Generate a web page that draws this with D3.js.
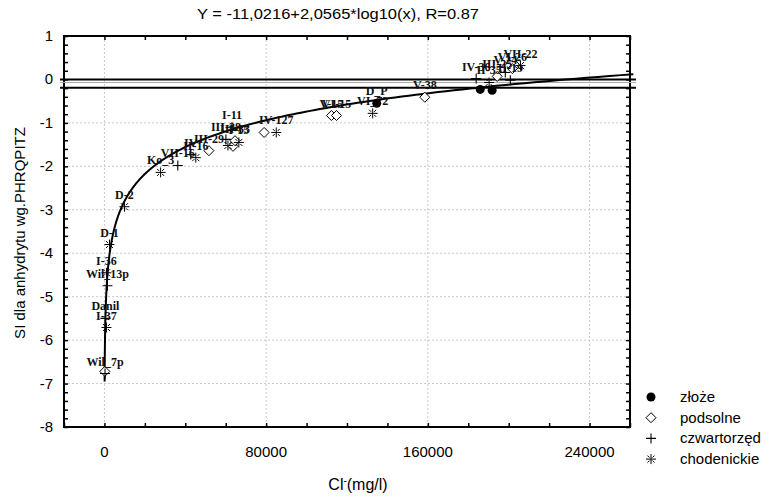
<!DOCTYPE html>
<html>
<head>
<meta charset="utf-8">
<script src="https://cdn.jsdelivr.net/npm/d3@7"></script>
<style>
	body { margin: 0; background: #fff; }
	svg { display: block; }
	.lbl { font-family: "Liberation Serif", "DejaVu Serif", serif; font-size: 12px; font-weight: bold; fill: #111; }
	.ax { font-family: "Liberation Sans", Arial, sans-serif; font-size: 15px; fill: #000; }
</style>
</head>
<body>
<div id="chart"></div>
<script>
(function () {
	// dane
	const seriesNames = ["złoże", "podsolne", "czwartorzęd", "chodenickie"]

	const zlozeCl = [134700, 185900, 191800]
	const zlozeSI = [-0.55, -0.23, -0.25]
	const zlozeLabels = ["D_P", "", ""]

	const podsolneCl = [158500, 112300, 114800, 79000, 51700, 63600, 64600, 200, 194300, 201800]
	const podsolneSI = [-0.41, -0.83, -0.83, -1.22, -1.64, -1.54, -1.41, -6.72, 0.07, 0.25]
	const podsolneLabels = ["V-38", "V-15", "VI-15", "", "III-29", "", "III-33", "", "III-25", "VI-26"]

	const czwCl = [300, 1500, 500, 36300, 42700, 63100, 60100, 183900, 198300, 200800]
	const czwSI = [-6.77, -4.75, -5.50, -1.98, -1.73, -1.10, -1.38, 0.02, 0.16, -0.02]
	const czwLabels = ["Wil_7p", "Wil_13p", "Danil", "VII-16", "IV", "I-11", "III-28", "IV-36", "V-24", "II-19"]

	const chodCl = [1000, 2500, 9900, 1000, 27800, 45200, 61100, 66500, 85000, 132700, 190300, 205800]
	const chodSI = [-4.45, -3.80, -2.93, -5.71, -2.14, -1.80, -1.52, -1.45, -1.22, -0.78, -0.07, 0.32]
	const chodLabels = ["I-36", "D-1", "D-2", "I-37", "Ko_3", "II-16", "", "I-15", "IV-127", "VI_72", "II-35", "VII-22"]

	// regresja z tytułu
	const fitA = -11.0216, fitB = 2.0565
	const refLines = [0, -0.19]

	const xTicks = [0, 80000, 160000, 240000]
	const yTicks = [1, 0, -1, -2, -3, -4, -5, -6, -7, -8]

	const W = 778, H = 497
	const left = 64, right = 630, top = 36, bottom = 427

	const svg = d3.select("#chart").append("svg")
		.attr("width", W).attr("height", H)

	const x = d3.scaleLinear().domain([-20000, 260000]).range([left, right])
	const y = d3.scaleLinear().domain([-8, 1]).range([bottom, top])

	// siatka
	const grid = svg.append("g").attr("stroke", "#c8c8c8").attr("stroke-dasharray", "2,2").attr("stroke-width", 1)
	grid.selectAll("line.v").data(xTicks).enter().append("line")
		.attr("x1", d => x(d)).attr("x2", d => x(d)).attr("y1", top).attr("y2", bottom)
	grid.selectAll("line.h").data(yTicks.filter(d => d < 1 && d > -8)).enter().append("line")
		.attr("y1", d => y(d)).attr("y2", d => y(d)).attr("x1", left).attr("x2", right)

	// osie (ticki do środka, na wszystkich bokach)
	const xAxisB = d3.axisBottom(x).tickValues(d3.range(-20000, 260001, 20000)).tickSize(-4).tickFormat("")
	const xAxisT = d3.axisTop(x).tickValues(d3.range(-20000, 260001, 20000)).tickSize(-4).tickFormat("")
	const yMinor = d3.range(-8, 1.001, 0.2)
	const yAxisL = d3.axisLeft(y).tickValues(yMinor).tickSize(-4).tickFormat("")
	const yAxisR = d3.axisRight(y).tickValues(yMinor).tickSize(-4).tickFormat("")

	svg.append("g").attr("transform", `translate(0,${bottom})`).call(xAxisB)
	svg.append("g").attr("transform", `translate(0,${top})`).call(xAxisT)
	svg.append("g").attr("transform", `translate(${left},0)`).call(yAxisL)
	svg.append("g").attr("transform", `translate(${right},0)`).call(yAxisR)
	svg.selectAll(".domain").remove()
	svg.selectAll(".tick line").attr("stroke", "#000").attr("stroke-width", 1.5)

	svg.append("rect")
		.attr("x", left).attr("y", top).attr("width", right - left).attr("height", bottom - top)
		.attr("fill", "none").attr("stroke", "#000").attr("stroke-width", 2)

	// etykiety osi
	svg.append("g").selectAll("text").data(xTicks).enter().append("text")
		.attr("class", "ax").attr("x", d => x(d)).attr("y", bottom + 30)
		.attr("text-anchor", "middle").text(d => d)
	svg.append("g").selectAll("text").data(yTicks).enter().append("text")
		.attr("class", "ax").attr("x", left - 11).attr("y", d => y(d) + 5)
		.attr("text-anchor", "end").text(d => d)

	svg.append("text").attr("class", "ax")
		.attr("x", 338).attr("y", 19).attr("text-anchor", "middle")
		.attr("textLength", 282).attr("lengthAdjust", "spacingAndGlyphs")
		.text("Y = -11,0216+2,0565*log10(x), R=0.87")

	svg.append("text").attr("class", "ax")
		.attr("transform", "translate(25,233) rotate(-90)")
		.attr("text-anchor", "middle")
		.text("SI dla anhydrytu wg.PHRQPITZ")

	const xl = svg.append("text").attr("class", "ax")
		.attr("x", 358).attr("y", 490).attr("text-anchor", "middle")
		.style("font-family", "'Liberation Sans Narrow', 'Liberation Sans', sans-serif")
		.style("font-size", "16px")
	xl.append("tspan").text("Cl")
	xl.append("tspan").attr("dy", -6).style("font-size", "10px").text("-")
	xl.append("tspan").attr("dy", 6).text("(mg/l)")

	// linie poziome 0 i -0.19
	svg.append("line")
		.attr("x1", left - 4).attr("x2", right + 6)
		.attr("y1", y(-0.07)).attr("y2", y(-0.07))
		.attr("stroke", "#aaa").attr("stroke-width", 1)
	svg.append("g").selectAll("line").data(refLines).enter().append("line")
		.attr("x1", left - 4).attr("x2", right + 6)
		.attr("y1", d => y(d)).attr("y2", d => y(d))
		.attr("stroke", "#000").attr("stroke-width", 2)

	// krzywa regresji
	const curveX = d3.range(Math.log10(95), Math.log10(263000), 0.01).map(v => Math.pow(10, v))
	svg.append("path")
		.datum(curveX)
		.attr("fill", "none").attr("stroke", "#000").attr("stroke-width", 2)
		.attr("d", d3.line().x(d => x(d)).y(d => y(fitA + fitB * Math.log10(d))))

	// symbole
	const sym = {
		"złoże": g => g.append("circle").attr("r", 4.5).attr("fill", "#000"),
		"podsolne": g => g.append("path").attr("d", "M0,-5L5,0L0,5L-5,0Z").attr("fill", "#fff").attr("stroke", "#000").attr("stroke-width", 1),
		"czwartorzęd": g => g.append("path").attr("d", "M-5,0H5M0,-5V5").attr("stroke", "#000").attr("stroke-width", 1.1),
		"chodenickie": g => g.append("path").attr("d", "M-5,0H5M0,-5V5M-3.5,-3.5L-1.5,-1.5M1.5,1.5L3.5,3.5M3.5,-3.5L1.5,-1.5M-1.5,1.5L-3.5,3.5").attr("stroke", "#000").attr("stroke-width", 1)
	}

	const series = [
		[seriesNames[0], zlozeCl, zlozeSI, zlozeLabels],
		[seriesNames[1], podsolneCl, podsolneSI, podsolneLabels],
		[seriesNames[2], czwCl, czwSI, czwLabels],
		[seriesNames[3], chodCl, chodSI, chodLabels]
	]

	const marks = svg.append("g")
	const labels = svg.append("g")
	series.forEach(([name, xs, ys, ls]) => {
		xs.forEach((v, i) => {
			const g = marks.append("g").attr("transform", `translate(${x(v)},${y(ys[i])})`)
			sym[name](g)
			if (ls[i]) {
				labels.append("text").attr("class", "lbl")
					.attr("x", x(v)).attr("y", y(ys[i]) - 8)
					.attr("text-anchor", "middle").text(ls[i])
			}
		})
	})

	// legenda
	const leg = svg.append("g").attr("transform", "translate(651,397)")
	seriesNames.forEach((n, i) => {
		const g = leg.append("g").attr("transform", `translate(0,${i * 20.7})`)
		sym[n](g)
		g.append("text").attr("class", "ax").attr("x", 29).attr("y", 5).text(n)
	})
})()
</script>
</body>
</html>
